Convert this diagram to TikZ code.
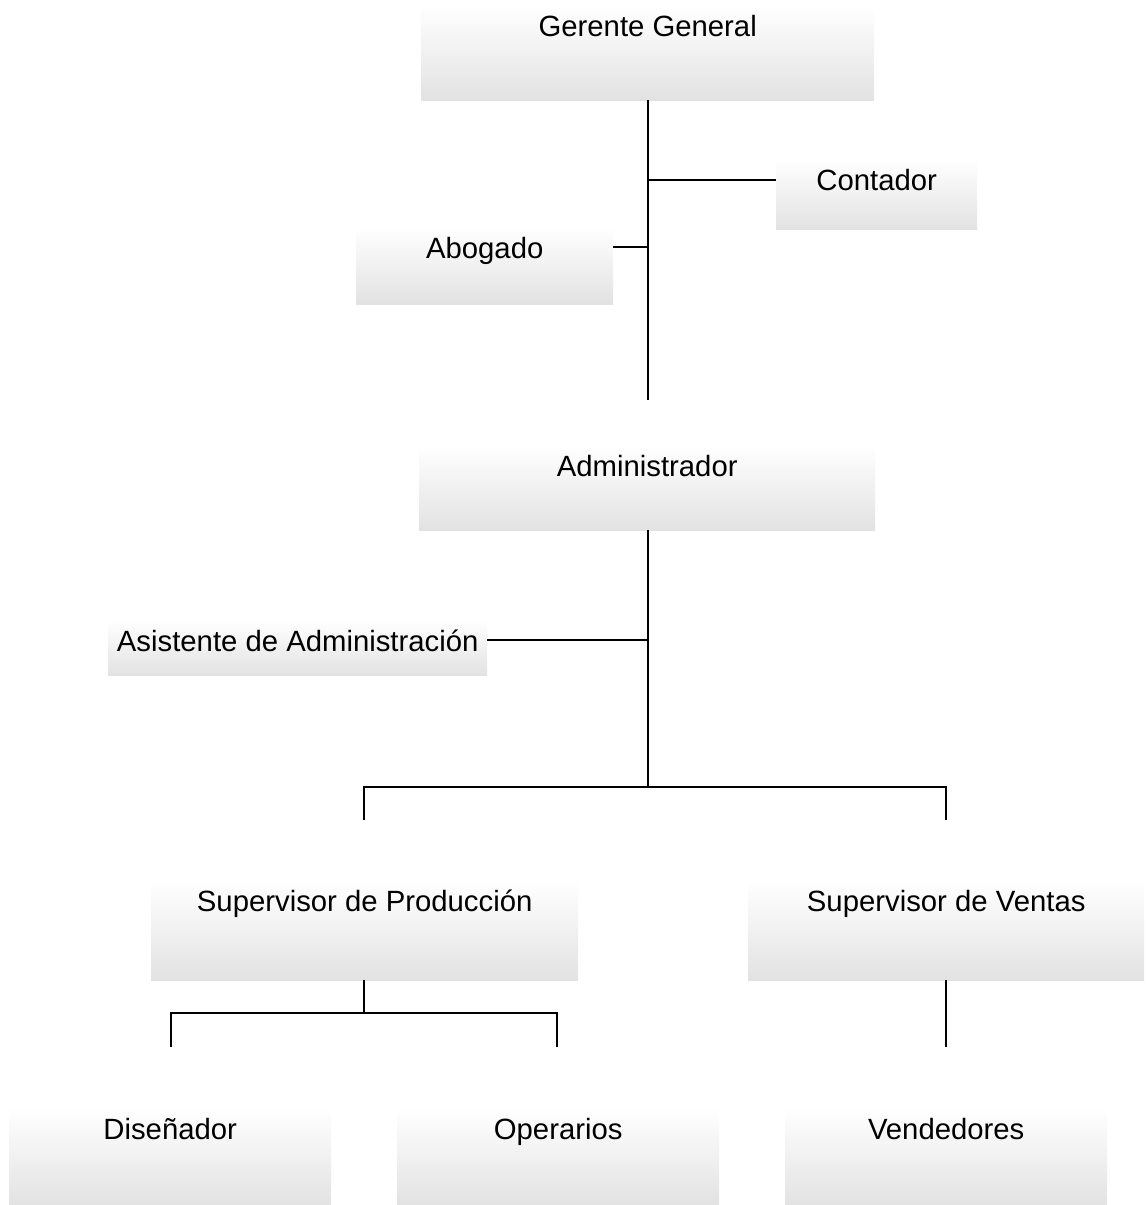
\documentclass[tikz,border=0pt]{standalone}
\usepackage{fontspec}
\setmainfont{Liberation Sans}
\usetikzlibrary{calc}
\definecolor{boxgray}{RGB}{226,226,226}
\begin{document}
\begin{tikzpicture}[x=1pt,y=-1pt,
  orgbox/.style={shade, top color=white, bottom color=boxgray, draw=none,
    inner sep=0pt, anchor=north west},
  lbl/.style={font=\fontsize{29.3}{34}\selectfont, inner sep=0pt, anchor=base},
  link/.style={draw=black, line width=1.3pt}]
\useasboundingbox (0,0) rectangle (1147,1205);

% boxes: corner at (x1,y1), size w x h, label baseline #7 below the top edge
\newcommand{\orgunit}[7]{%
  \node[orgbox, minimum width=#4, minimum height=#5] (#1) at (#2,#3) {};
  \node[lbl] (#1t) at ($(#1.north)+(0,#7)$) {#6};}

\orgunit{gg}{421}{5}{453}{95}{Gerente General}{31}
\orgunit{ct}{776}{159}{201}{70}{Contador}{31}
\orgunit{ab}{356}{227}{257}{77}{Abogado}{31}
\orgunit{ad}{419}{445}{456}{85}{Administrador}{31}
\orgunit{as}{108}{620}{379}{55}{Asistente de Administración}{31}
\orgunit{sp}{151}{880}{427}{100}{Supervisor de Producción}{31}
\orgunit{sv}{748}{880}{396}{100}{Supervisor de Ventas}{31}
\orgunit{di}{9}{1108}{322}{97}{Diseñador}{31}
\orgunit{op}{397}{1108}{322}{97}{Operarios}{31}
\orgunit{ve}{785}{1108}{322}{97}{Vendedores}{31}

% top trunk
\coordinate (trunkEnd) at (648,400);
\coordinate (jC) at (648,180);
\coordinate (jA) at (648,247);
\draw[link] (gg.south -| trunkEnd) -- (trunkEnd);
\draw[link] (jC) -- (jC -| ct.west);
\draw[link] (jA) -- (jA -| ab.east);

% administrator trunk
\coordinate (jS) at (648,640);
\coordinate (jB) at (648,787);
\coordinate (dP) at (364,820);
\coordinate (dV) at (946,820);
\draw[link] (ad.south -| jB) -- (jB);
\draw[link] (jS) -- (jS -| as.east);
\draw[link] (dP) -- (dP |- jB) -- (dV |- jB) -- (dV);

% production branch
\coordinate (jP) at (364,1013);
\coordinate (dD) at (171,1047);
\coordinate (dO) at (557,1047);
\draw[link] (sp.south -| jP) -- (jP);
\draw[link] (dD) -- (dD |- jP) -- (dO |- jP) -- (dO);

% sales branch
\coordinate (dS) at (946,1047);
\draw[link] (sv.south -| dS) -- (dS);
\end{tikzpicture}
\end{document}
